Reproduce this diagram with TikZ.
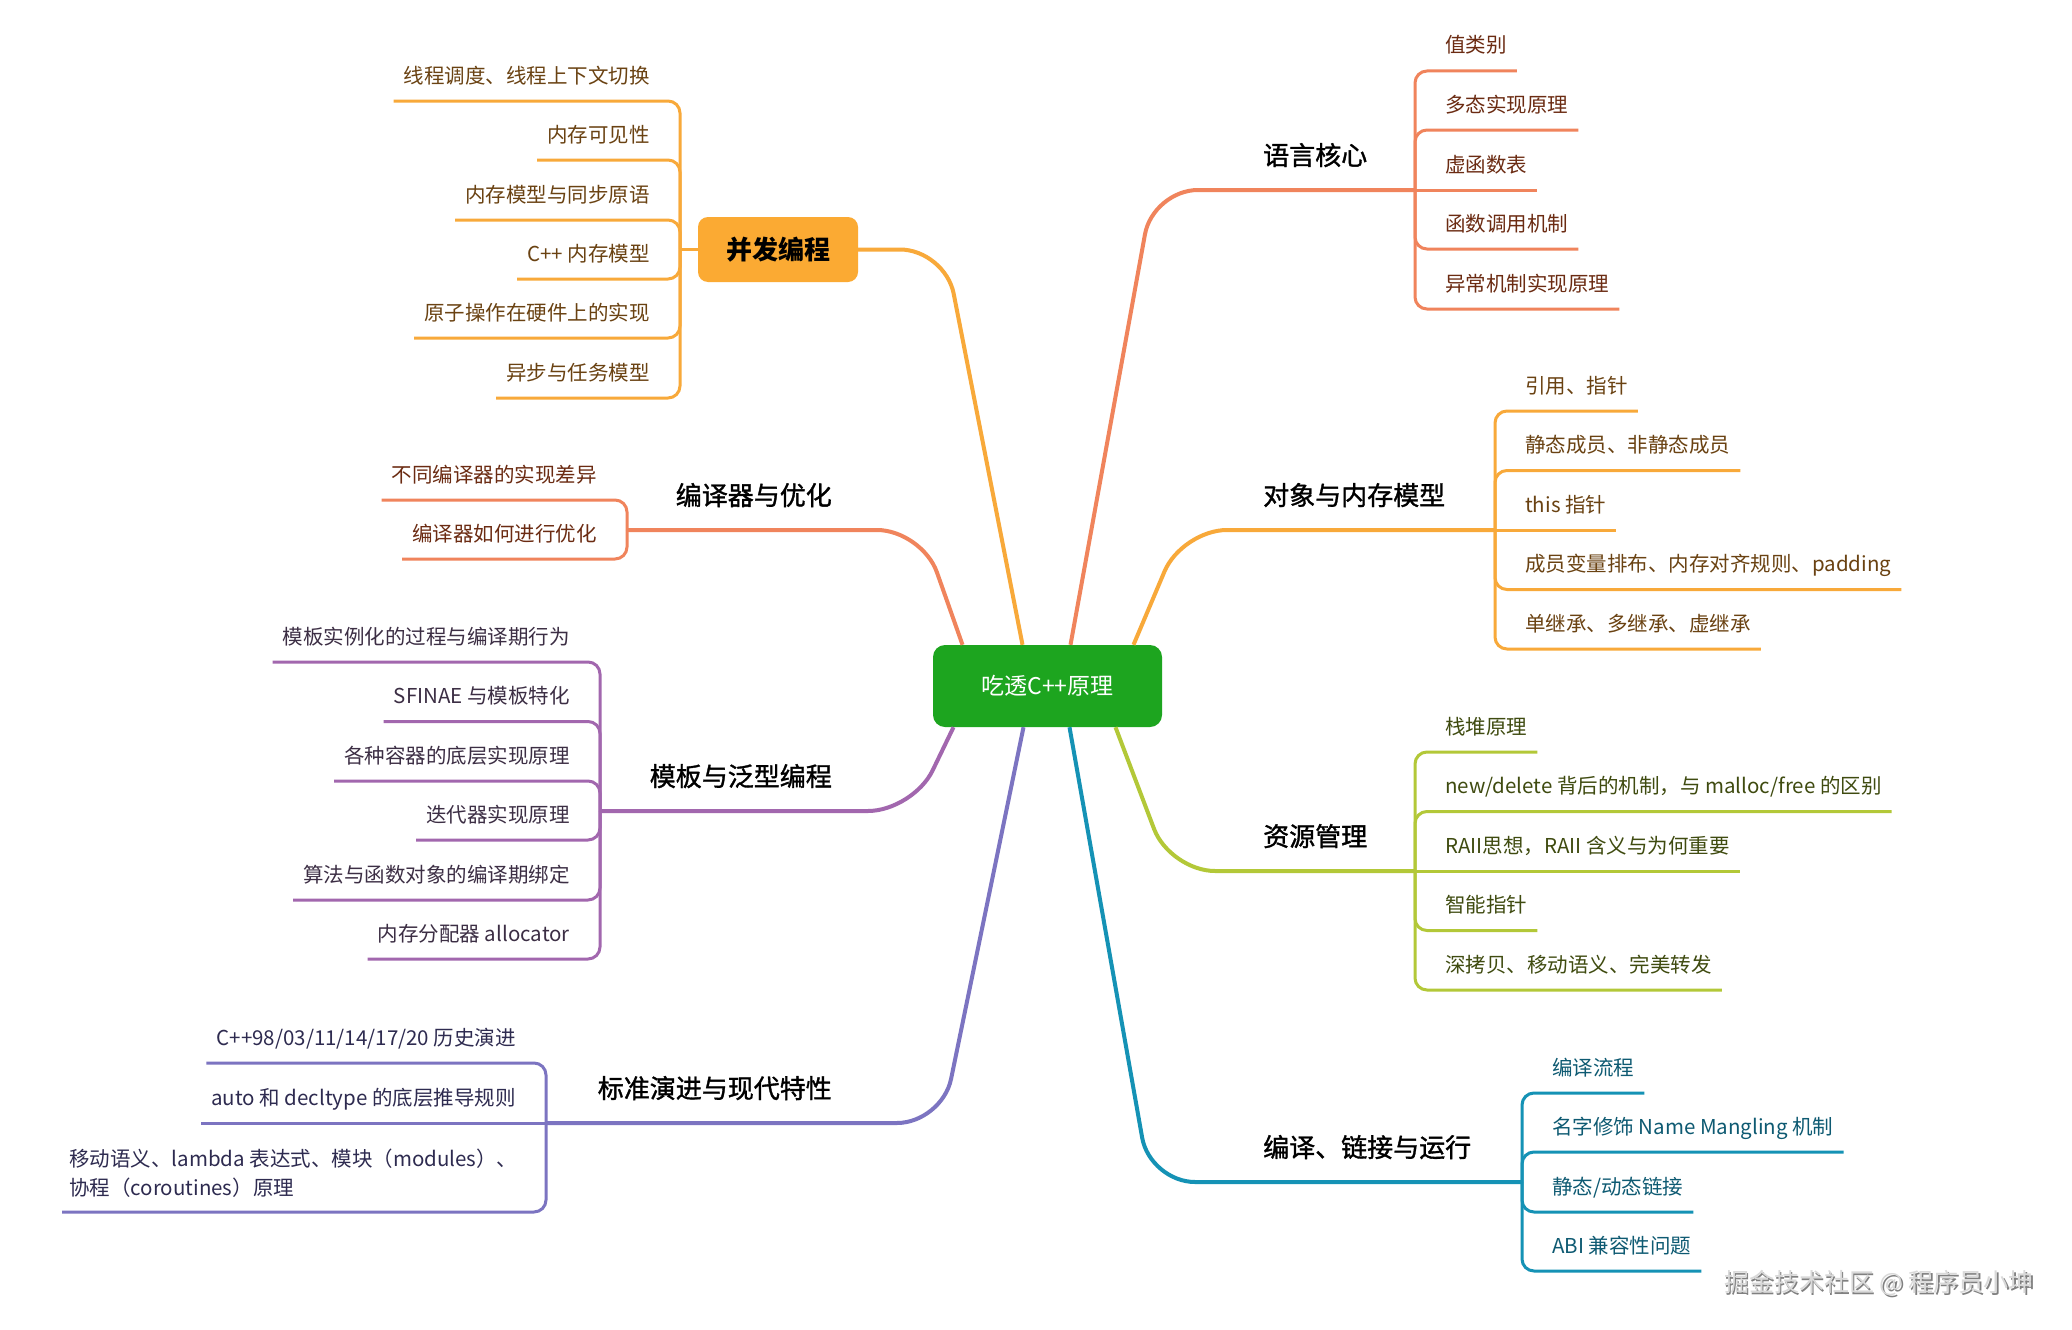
\documentclass[tikz,border=0pt]{standalone}
\usepackage{fontspec}
\setmainfont{Noto Sans CJK SC}
\newfontface\medface[FakeBold=1.3]{Noto Sans CJK SC}
\usetikzlibrary{calc}
\definecolor{cCoral}{HTML}{F0845C}
\definecolor{tCoral}{HTML}{6B2B12}
\definecolor{cOrange}{HTML}{F8A93A}
\definecolor{cOrangeBox}{HTML}{FBAA33}
\definecolor{tOrange}{HTML}{6A4212}
\definecolor{cLime}{HTML}{B3C838}
\definecolor{tLime}{HTML}{3F4B10}
\definecolor{cTeal}{HTML}{1592B5}
\definecolor{tTeal}{HTML}{0E5A72}
\definecolor{cPurple}{HTML}{A267AE}
\definecolor{tPurple}{HTML}{3C2E44}
\definecolor{cViolet}{HTML}{7C74C1}
\definecolor{tViolet}{HTML}{2E2B50}
\definecolor{cGreen}{HTML}{1DA51F}
\begin{document}
\begin{tikzpicture}[x=1pt,y=-1pt,
  mainline/.style={line width=4pt, rounded corners=45pt},
  leafline/.style={line width=3pt, rounded corners=12pt},
  leafR/.style={anchor=base west, inner xsep=10pt, inner ysep=0pt, font=\fontsize{20.5}{24}\selectfont},
  leafL/.style={anchor=base east, inner xsep=10pt, inner ysep=0pt, font=\fontsize{20.5}{24}\selectfont},
  lblR/.style={anchor=base west, inner sep=0pt, font=\medface\fontsize{26}{30}\selectfont},
  lblL/.style={anchor=base east, inner sep=0pt, font=\medface\fontsize{26}{30}\selectfont},
]
\useasboundingbox (0,0) rectangle (2072,1330);
\fill[white] (0,0) rectangle (2072,1330);

% root
\node[fill=cGreen, rounded corners=12pt, minimum width=229pt, minimum height=82pt,
      text=white, font=\fontsize{23}{27}\selectfont] (root) at (1047.5,686) {吃透C++原理};

% bracket and bend coordinates
\coordinate (b1) at (1415,190);   \coordinate (p1) at (1153,190);
\coordinate (b2) at (1495,530);   \coordinate (p2) at (1182,530);
\coordinate (b3) at (1415,871);   \coordinate (p3) at (1170,871);
\coordinate (b4) at (1522,1182);  \coordinate (p4) at (1150,1182);
\coordinate (b5) at (680,249.5);  \coordinate (p5) at (945,249.5);
\coordinate (b6) at (627,530);    \coordinate (p6) at (922,530);
\coordinate (b7) at (600,811);    \coordinate (p7) at (913,811);
\coordinate (b8) at (546,1123);   \coordinate (p8) at (942,1123);

% ===== 语言核心 =====
\draw[mainline, cCoral] ([xshift=23pt]root.north) -- (p1) -- (b1);
\node[lblR] (m1) at (1263,165) {语言核心};
\node[leafR, text=tCoral] (a1) at (1435,53) {值类别};
\node[leafR, text=tCoral] (a2) at (1435,112) {多态实现原理};
\node[leafR, text=tCoral] (a3) at (1435,172) {虚函数表};
\node[leafR, text=tCoral] (a4) at (1435,231) {函数调用机制};
\node[leafR, text=tCoral] (a5) at (1435,291) {异常机制实现原理};
\draw[leafline, cCoral] (b1) |- ($(a1.base east)+(0,18)$);
\draw[leafline, cCoral] (b1) |- ($(a2.base east)+(0,18)$);
\draw[leafline, cCoral] (b1) -- ($(a3.base east)+(0,18)$);
\draw[leafline, cCoral] (b1) |- ($(a4.base east)+(0,18)$);
\draw[leafline, cCoral] (b1) |- ($(a5.base east)+(0,18)$);

% ===== 对象与内存模型 =====
\draw[mainline, cOrange] ([xshift=86pt]root.north) -- (p2) -- (b2);
\node[lblR] (m2) at (1263,505) {对象与内存模型};
\node[leafR, text=tOrange] (c1) at (1515,393) {引用、指针};
\node[leafR, text=tOrange] (c2) at (1515,452.5) {静态成员、非静态成员};
\node[leafR, text=tOrange] (c3) at (1515,512) {this 指针};
\node[leafR, text=tOrange] (c4) at (1515,571.5) {成员变量排布、内存对齐规则、padding};
\node[leafR, text=tOrange] (c5) at (1515,631) {单继承、多继承、虚继承};
\draw[leafline, cOrange] (b2) |- ($(c1.base east)+(0,18)$);
\draw[leafline, cOrange] (b2) |- ($(c2.base east)+(0,18)$);
\draw[leafline, cOrange] (b2) -- ($(c3.base east)+(0,18)$);
\draw[leafline, cOrange] (b2) |- ($(c4.base east)+(0,18)$);
\draw[leafline, cOrange] (b2) |- ($(c5.base east)+(0,18)$);

% ===== 资源管理 =====
\draw[mainline, cLime] ([xshift=68pt]root.south) -- (p3) -- (b3);
\node[lblR] (m3) at (1263,846) {资源管理};
\node[leafR, text=tLime] (d1) at (1435,734) {栈堆原理};
\node[leafR, text=tLime] (d2) at (1435,793.5) {new/delete 背后的机制，与 malloc/free 的区别};
\node[leafR, text=tLime] (d3) at (1435,853) {RAII思想，RAII 含义与为何重要};
\node[leafR, text=tLime] (d4) at (1435,912.5) {智能指针};
\node[leafR, text=tLime] (d5) at (1435,972) {深拷贝、移动语义、完美转发};
\draw[leafline, cLime] (b3) |- ($(d1.base east)+(0,18)$);
\draw[leafline, cLime] (b3) |- ($(d2.base east)+(0,18)$);
\draw[leafline, cLime] (b3) -- ($(d3.base east)+(0,18)$);
\draw[leafline, cLime] (b3) |- ($(d4.base east)+(0,18)$);
\draw[leafline, cLime] (b3) |- ($(d5.base east)+(0,18)$);

% ===== 编译、链接与运行 =====
\draw[mainline, cTeal] ([xshift=22pt]root.south) -- (p4) -- (b4);
\node[lblR] (m4) at (1263,1157) {编译、链接与运行};
\node[leafR, text=tTeal] (e1) at (1542,1075) {编译流程};
\node[leafR, text=tTeal] (e2) at (1542,1134) {名字修饰 Name Mangling 机制};
\node[leafR, text=tTeal] (e3) at (1542,1194) {静态/动态链接};
\node[leafR, text=tTeal] (e4) at (1542,1253) {ABI 兼容性问题};
\draw[leafline, cTeal] (b4) |- ($(e1.base east)+(0,18)$);
\draw[leafline, cTeal] (b4) |- ($(e2.base east)+(0,18)$);
\draw[leafline, cTeal] (b4) |- ($(e3.base east)+(0,18)$);
\draw[leafline, cTeal] (b4) |- ($(e4.base east)+(0,18)$);

% ===== 并发编程 =====
\node[fill=cOrangeBox, rounded corners=10pt, minimum width=160pt, minimum height=65pt,
      font=\fontsize{26}{30}\selectfont\bfseries] (m5) at (778,249.5) {并发编程};
\draw[mainline, cOrange] ([xshift=-25pt]root.north) -- (p5) -- (m5.east);
\draw[leafline, cOrange] (m5.west) -- (b5);
\node[leafL, text=tOrange] (f1) at (660,83) {线程调度、线程上下文切换};
\node[leafL, text=tOrange] (f2) at (660,142) {内存可见性};
\node[leafL, text=tOrange] (f3) at (660,202) {内存模型与同步原语};
\node[leafL, text=tOrange] (f4) at (660,261) {C++ 内存模型};
\node[leafL, text=tOrange] (f5) at (660,320) {原子操作在硬件上的实现};
\node[leafL, text=tOrange] (f6) at (660,380) {异步与任务模型};
\draw[leafline, cOrange] (b5) |- ($(f1.base west)+(0,18)$);
\draw[leafline, cOrange] (b5) |- ($(f2.base west)+(0,18)$);
\draw[leafline, cOrange] (b5) |- ($(f3.base west)+(0,18)$);
\draw[leafline, cOrange] (b5) |- ($(f4.base west)+(0,18)$);
\draw[leafline, cOrange] (b5) |- ($(f5.base west)+(0,18)$);
\draw[leafline, cOrange] (b5) |- ($(f6.base west)+(0,18)$);

% ===== 编译器与优化 =====
\draw[mainline, cCoral] ([xshift=-85pt]root.north) -- (p6) -- (b6);
\node[lblL] (m6) at (832,505) {编译器与优化};
\node[leafL, text=tCoral] (g1) at (607,482) {不同编译器的实现差异};
\node[leafL, text=tCoral] (g2) at (607,541) {编译器如何进行优化};
\draw[leafline, cCoral] (b6) |- ($(g1.base west)+(0,18)$);
\draw[leafline, cCoral] (b6) |- ($(g2.base west)+(0,18)$);

% ===== 模板与泛型编程 =====
\draw[mainline, cPurple] ([xshift=-94pt]root.south) -- (p7) -- (b7);
\node[lblL] (m7) at (832,786) {模板与泛型编程};
\node[leafL, text=tPurple] (h1) at (580,644) {模板实例化的过程与编译期行为};
\node[leafL, text=tPurple] (h2) at (580,703.5) {SFINAE 与模板特化};
\node[leafL, text=tPurple] (h3) at (580,763) {各种容器的底层实现原理};
\node[leafL, text=tPurple] (h4) at (580,822) {迭代器实现原理};
\node[leafL, text=tPurple] (h5) at (580,882) {算法与函数对象的编译期绑定};
\node[leafL, text=tPurple] (h6) at (580,941) {内存分配器 allocator};
\draw[leafline, cPurple] (b7) |- ($(h1.base west)+(0,18)$);
\draw[leafline, cPurple] (b7) |- ($(h2.base west)+(0,18)$);
\draw[leafline, cPurple] (b7) |- ($(h3.base west)+(0,18)$);
\draw[leafline, cPurple] (b7) |- ($(h4.base west)+(0,18)$);
\draw[leafline, cPurple] (b7) |- ($(h5.base west)+(0,18)$);
\draw[leafline, cPurple] (b7) |- ($(h6.base west)+(0,18)$);

% ===== 标准演进与现代特性 =====
\draw[mainline, cViolet] ([xshift=-24pt]root.south) -- (p8) -- (b8);
\node[lblL] (m8) at (832,1098) {标准演进与现代特性};
\node[leafL, text=tViolet] (k1) at (526,1045) {C++98/03/11/14/17/20 历史演进};
\node[leafL, text=tViolet] (k2) at (526,1105) {auto 和 decltype 的底层推导规则};
\node[anchor=north west, inner xsep=10pt, inner ysep=0pt, align=left, text=tViolet,
      font=\fontsize{20.5}{29}\selectfont] (k3) at (59,1149)
      {移动语义、lambda 表达式、模块（modules）、\\协程（coroutines）原理};
\coordinate (k3u) at (62,1212);
\draw[leafline, cViolet] (b8) |- ($(k1.base west)+(0,18)$);
\draw[leafline, cViolet] (b8) -- ($(k2.base west)+(0,18)$);
\draw[leafline, cViolet] (b8) |- (k3u);

% watermark
\node[anchor=east, text=black!50, font=\fontsize{25}{29}\selectfont] (wms) at (2039,1285) {掘金技术社区 @ 程序员小坤};
\node[anchor=east, text=black!15, font=\fontsize{25}{29}\selectfont] (wm) at (2037.5,1283.5) {掘金技术社区 @ 程序员小坤};
\end{tikzpicture}
\end{document}
